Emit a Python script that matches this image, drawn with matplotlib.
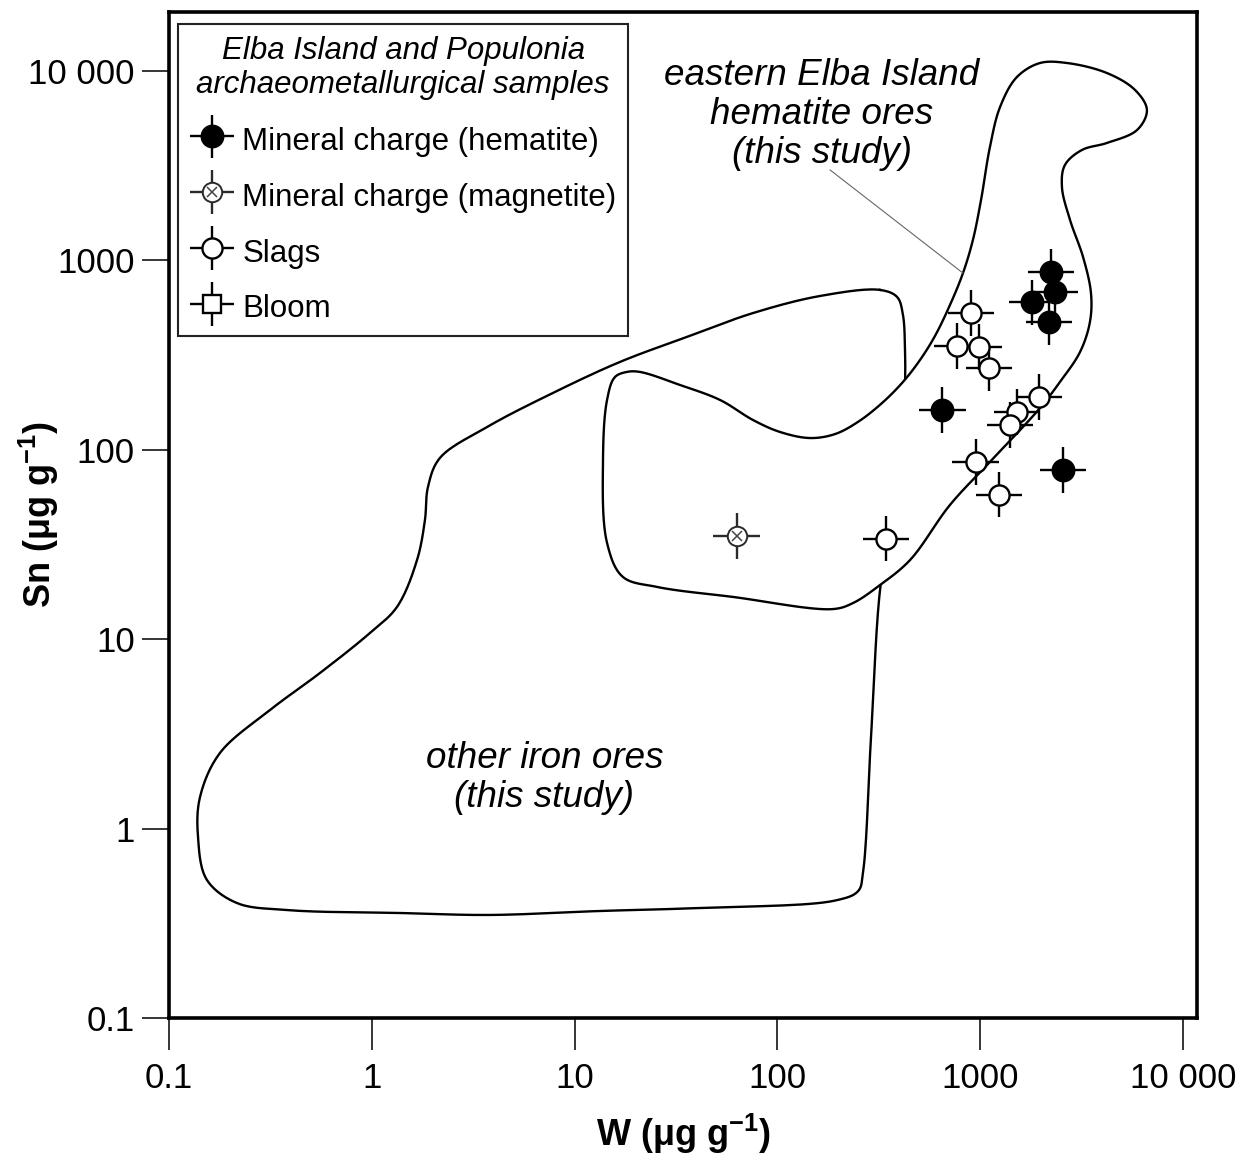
"""Sn vs W log-log diagram: Elba Island / Populonia samples against ore fields."""

import numpy as np
import matplotlib
matplotlib.use("Agg")
import matplotlib.pyplot as plt
from matplotlib.container import ErrorbarContainer
from matplotlib.legend_handler import HandlerErrorbar

plt.rcParams["font.family"] = ["Liberation Sans", "DejaVu Sans"]
plt.rcParams["mathtext.fontset"] = "custom"
plt.rcParams["mathtext.rm"] = "Liberation Sans"
plt.rcParams["mathtext.bf"] = "Liberation Sans:bold"
plt.rcParams["mathtext.it"] = "Liberation Sans:italic"

# --- samples (ug/g) ---
HEM_W = [2230, 2340, 1800, 2180, 650, 2560]
HEM_SN = [870, 680, 600, 470, 162, 78]
MAG_W = [63]
MAG_SN = [35]
SLAG_W = [900, 770, 985, 1105, 1950, 1520, 1400, 950, 1240, 343]
SLAG_SN = [528, 353, 349, 270, 190, 158, 135, 86, 58, 34]
ERR_DEX_W = 0.115   # half-length of error bars, in decades
ERR_DEX_SN = 0.12

# --- field outlines, digitised in log10 units ---
OTHER_LOG_W = [2.506, 2.590, 2.619, 2.629, 2.629, 2.605, 2.555, 2.506, 2.462,
               2.422, 2.398, 2.284, 1.618, 1.125, 0.583, 0.154, -0.418, -0.665,
               -0.813, -0.857, -0.847, -0.749, -0.502, -0.255, -0.009, 0.124,
               0.223, 0.262, 0.277, 0.336, 0.568, 0.893, 1.224, 1.554, 1.880,
               2.210]
OTHER_LOG_SN = [2.844, 2.807, 2.712, 2.527, 2.342, 1.946, 1.577, 1.260, 0.494,
                -0.230, -0.330, -0.380, -0.419, -0.435, -0.456, -0.446, -0.430,
                -0.393, -0.271, -0.044, 0.167, 0.399, 0.626, 0.822, 1.033,
                1.170, 1.418, 1.629, 1.804, 1.957, 2.120, 2.300, 2.464, 2.596,
                2.722, 2.812]
ELBA_LOG_W = [1.160, 1.199, 1.258, 1.322, 1.520, 1.717, 1.880, 2.013, 2.161,
              2.284, 2.397, 2.516, 2.619, 2.703, 2.777, 2.851, 2.915, 2.964,
              3.004, 3.048, 3.098, 3.181, 3.295, 3.428, 3.625, 3.763, 3.822,
              3.773, 3.625, 3.502, 3.418, 3.403, 3.443, 3.507, 3.546, 3.541,
              3.492, 3.393, 3.295, 3.048, 2.851, 2.654, 2.506, 2.373, 2.274,
              1.781, 1.406, 1.239, 1.160, 1.140]
ELBA_LOG_SN = [2.263, 2.384, 2.411, 2.411, 2.342, 2.263, 2.157, 2.094, 2.062,
               2.083, 2.147, 2.247, 2.358, 2.474, 2.601, 2.765, 2.933, 3.108,
               3.319, 3.599, 3.810, 3.968, 4.042, 4.042, 3.989, 3.900, 3.794,
               3.688, 3.620, 3.583, 3.504, 3.388, 3.213, 3.018, 2.828, 2.675,
               2.516, 2.358, 2.221, 1.936, 1.709, 1.418, 1.286, 1.191, 1.159,
               1.223, 1.276, 1.328, 1.508, 1.946]

TICKS = [0.1, 1, 10, 100, 1000, 10000]
TICK_LABELS = ["0.1", "1", "10", "100", "1000", "10 000"]


def smooth_closed(xs, ys, n=16):
    """Closed centripetal Catmull-Rom curve through the digitised vertices."""
    p = np.column_stack([xs, ys])
    m = len(p)
    out = []
    for i in range(m):
        p0, p1, p2, p3 = p[i - 1], p[i], p[(i + 1) % m], p[(i + 2) % m]
        t0 = 0.0
        t1 = t0 + np.linalg.norm(p1 - p0) ** 0.5
        t2 = t1 + np.linalg.norm(p2 - p1) ** 0.5
        t3 = t2 + np.linalg.norm(p3 - p2) ** 0.5
        t = np.linspace(t1, t2, n, endpoint=False)[:, None]
        a1 = (t1 - t) / (t1 - t0) * p0 + (t - t0) / (t1 - t0) * p1
        a2 = (t2 - t) / (t2 - t1) * p1 + (t - t1) / (t2 - t1) * p2
        a3 = (t3 - t) / (t3 - t2) * p2 + (t - t2) / (t3 - t2) * p3
        b1 = (t2 - t) / (t2 - t0) * a1 + (t - t0) / (t2 - t0) * a2
        b2 = (t3 - t) / (t3 - t1) * a2 + (t - t1) / (t3 - t1) * a3
        out.append((t2 - t) / (t2 - t1) * b1 + (t - t1) / (t2 - t1) * b2)
    out = np.vstack(out + [p[:1]])
    return 10 ** out[:, 0], 10 ** out[:, 1]


def log_err(vals, dex):
    v = np.asarray(vals, dtype=float)
    return [v * (1 - 10 ** -dex), v * (10 ** dex - 1)]


fig = plt.figure(figsize=(12.47, 11.61), dpi=100)
ax = fig.add_axes([169 / 1247, 143 / 1161, 1028 / 1247, 1006 / 1161])
ax.set_xscale("log")
ax.set_yscale("log")
ax.set_xlim(0.1, 11720)
ax.set_ylim(0.1, 20480)

# fields: Elba field is white-filled so it hides the other outline inside it
ox, oy = smooth_closed(OTHER_LOG_W, OTHER_LOG_SN)
ax.plot(ox, oy, color="black", lw=1.7, zorder=2)
ex, ey = smooth_closed(ELBA_LOG_W, ELBA_LOG_SN)
ax.fill(ex, ey, facecolor="white", edgecolor="black", lw=1.7, zorder=3)

ax.plot([182, 822], [3000, 857], color="#666666", lw=0.8, zorder=3)
ax.text(166, 5880, "eastern Elba Island\nhematite ores\n(this study)",
        style="italic", fontsize=26.5, ha="center", va="center",
        multialignment="center", linespacing=1.15, zorder=4)
ax.text(7.1, 1.86, "other iron ores\n(this study)", style="italic",
        fontsize=26.5, ha="center", va="center", multialignment="center",
        linespacing=1.15, zorder=4)

bar_kw = dict(linestyle="none", elinewidth=1.7, capsize=0)
h_slag = ax.errorbar(SLAG_W, SLAG_SN, xerr=log_err(SLAG_W, ERR_DEX_W),
                     yerr=log_err(SLAG_SN, ERR_DEX_SN), marker="o", ms=14.5,
                     mfc="white", mec="black", mew=1.7, ecolor="black",
                     zorder=6, **bar_kw)
h_hem = ax.errorbar(HEM_W, HEM_SN, xerr=log_err(HEM_W, ERR_DEX_W),
                    yerr=log_err(HEM_SN, ERR_DEX_SN), marker="o", ms=16,
                    mfc="black", mec="black", mew=1.2, ecolor="black",
                    zorder=7, **bar_kw)
h_mag = ax.errorbar(MAG_W, MAG_SN, xerr=log_err(MAG_W, ERR_DEX_W),
                    yerr=log_err(MAG_SN, ERR_DEX_SN), marker="o", ms=14,
                    mfc="white", mec="#2a2a2a", mew=1.4, ecolor="#2a2a2a",
                    zorder=6, **bar_kw)
h_magx, = ax.plot(MAG_W, MAG_SN, linestyle="none", marker="x", ms=7.5,
                  mew=1.1, color="#444444", zorder=7)
h_bloom = ax.errorbar([np.nan], [np.nan], xerr=[[np.nan], [np.nan]],
                      yerr=[[np.nan], [np.nan]], marker="s", ms=13,
                      mfc="white", mec="black", mew=1.7, ecolor="black",
                      **bar_kw)

LEG_FS = 22.5
leg = ax.legend(
    [h_hem, (h_mag, h_magx), h_slag, h_bloom],
    ["Mineral charge (hematite)", "Mineral charge (magnetite)", "Slags",
     "Bloom"],
    title="Elba Island and Populonia\narchaeometallurgical samples",
    title_fontproperties={"size": LEG_FS, "style": "italic"},
    prop={"size": LEG_FS}, loc="upper left", bbox_to_anchor=(0.00875, 0.988),
    borderaxespad=0, numpoints=1, handlelength=1.45, handleheight=1.3,
    handletextpad=0.24, labelspacing=0.68, borderpad=0.37, fancybox=False,
    framealpha=1, edgecolor="#222222",
    handler_map={ErrorbarContainer: HandlerErrorbar(xerr_size=0.7,
                                                    yerr_size=0.7)})
leg.get_frame().set_linewidth(1.5)
leg.get_title().set_multialignment("center")
leg._legend_box.sep = 0.68 * LEG_FS + 0.9   # room under the title
leg.set_zorder(10)

for s in ax.spines.values():
    s.set_linewidth(2.6)
ax.set_xticks(TICKS, TICK_LABELS)
ax.set_yticks(TICKS, TICK_LABELS)
ax.xaxis.set_minor_locator(matplotlib.ticker.NullLocator())
ax.yaxis.set_minor_locator(matplotlib.ticker.NullLocator())
ax.tick_params(axis="x", direction="out", length=23, width=1.1, pad=9,
               labelsize=25)
ax.tick_params(axis="y", direction="out", length=19.5, width=1.1, pad=5,
               labelsize=25)

ax.set_xlabel(r"W (μg g$^{\mathbf{-1}}$)", fontsize=26, fontweight="bold",
              labelpad=12)
ax.set_ylabel(r"Sn (μg g$^{\mathbf{-1}}$)", fontsize=26, fontweight="bold")
ax.yaxis.set_label_coords(-0.105, 0.5)

fig.savefig("out.png", dpi=100)
